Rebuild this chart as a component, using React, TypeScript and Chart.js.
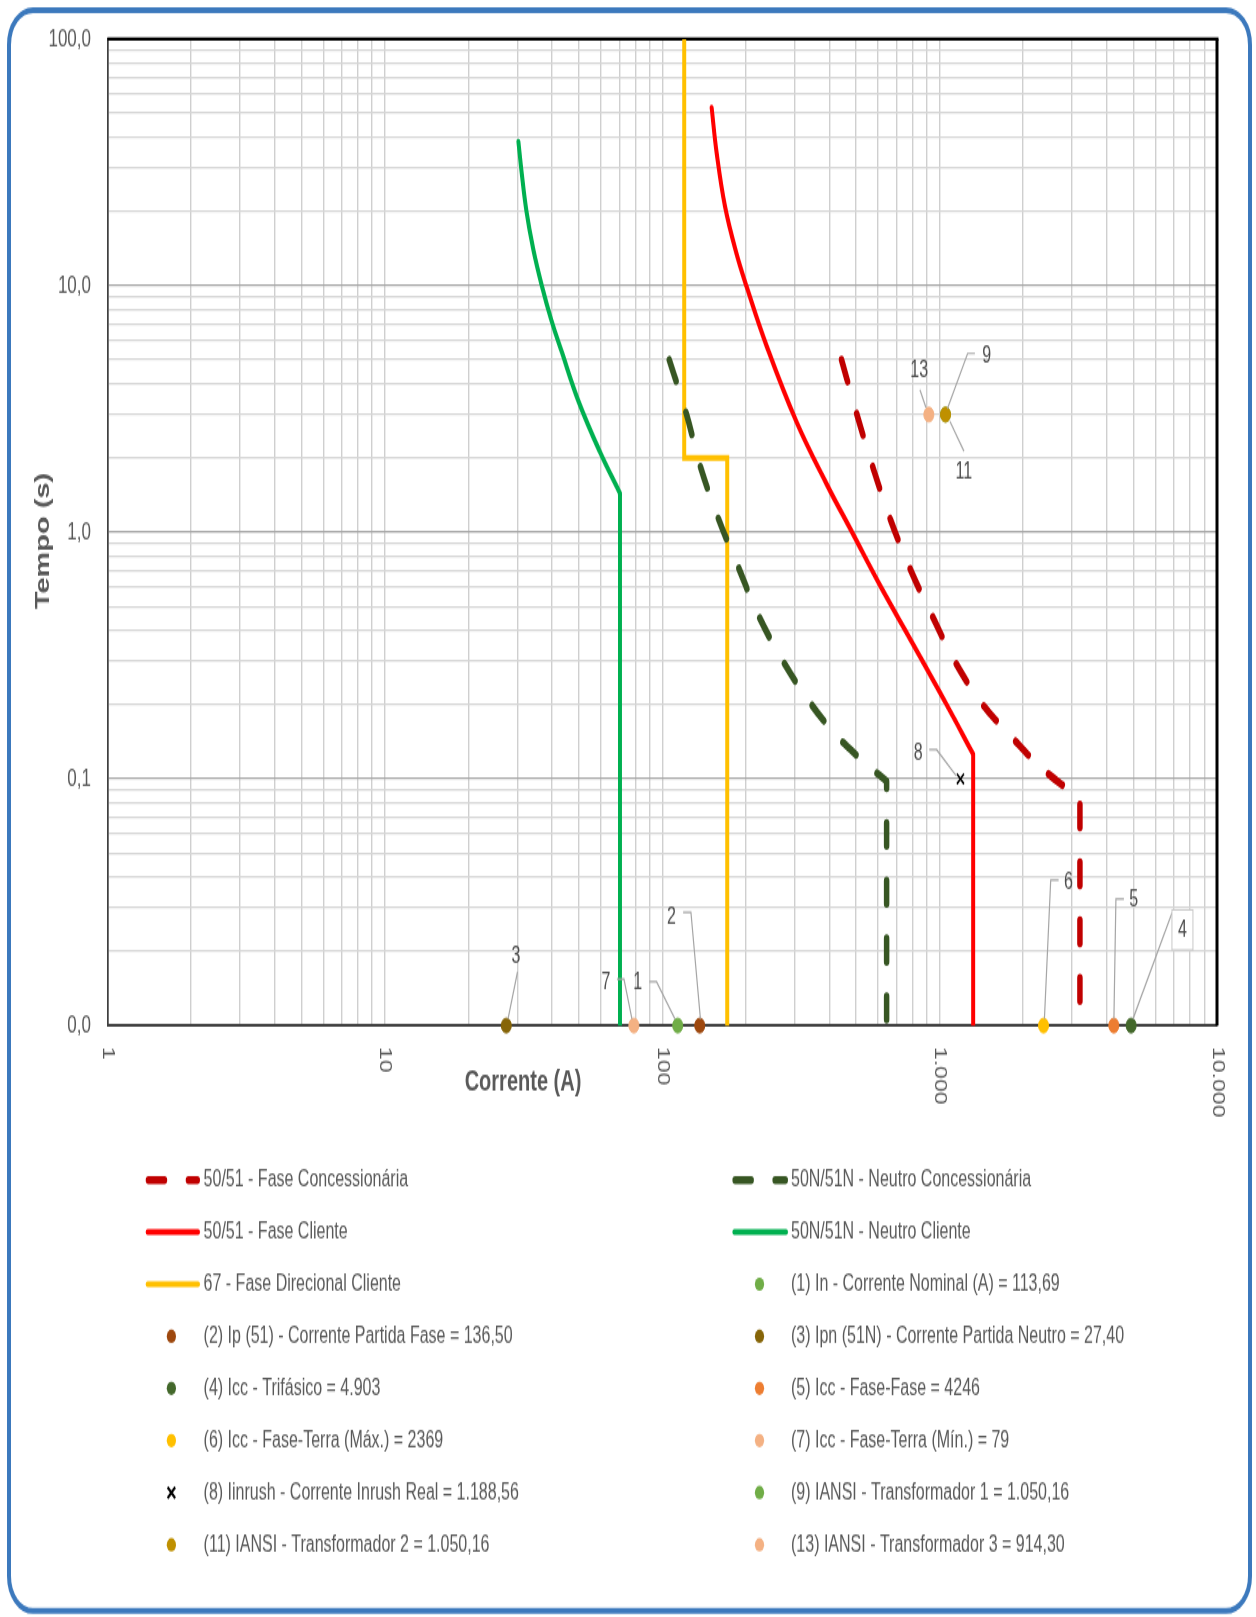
import React, { useEffect, useRef } from 'react';
import { Chart, registerables } from 'chart.js';

Chart.register(...registerables);

// ---------------- data ----------------
const xGridValues = [1, 2, 3, 4, 5, 6, 7, 8, 9, 10, 20, 30, 40, 50, 60, 70, 80, 90, 100, 200, 300, 400, 500, 600, 700, 800, 900, 1000, 2000, 3000, 4000, 5000, 6000, 7000, 8000, 9000, 10000];
const xTickValues = [1, 10, 100, 1000, 10000];
const xTickLabels = ['1', '10', '100', '1.000', '10.000'];

const yGridValues = [0.01, 0.02, 0.03, 0.04, 0.05, 0.06, 0.07, 0.08, 0.09, 0.1, 0.2, 0.3, 0.4, 0.5, 0.6, 0.7, 0.8, 0.9, 1, 2, 3, 4, 5, 6, 7, 8, 9, 10, 20, 30, 40, 50, 60, 70, 80, 90, 100];
const yTickValues = [0.01, 0.1, 1, 10, 100];
const yTickLabels = ['0,0', '0,1', '1,0', '10,0', '100,0'];

const xTitle = 'Corrente (A)';
const yTitle = 'Tempo (s)';

const curveNames = [
  '50/51 - Fase Concessionária',
  '50N/51N - Neutro Concessionária',
  '50/51 - Fase Cliente',
  '50N/51N - Neutro Cliente',
  '67 - Fase Direcional Cliente',
];
const curveColors = ['#C00000', '#375623', '#FF0000', '#00B050', '#FFC000'];
const curveDashed = [true, true, false, false, false];
const curveSmooth = [true, true, true, true, false];

const faseConcCurrent = [443, 502, 576, 666, 786, 944, 1145, 1436, 1818, 2266, 2870, 3205, 3205];
const faseConcTime = [5.0, 3.03, 1.82, 1.12, 0.703, 0.454, 0.294, 0.199, 0.148, 0.114, 0.0915, 0.084, 0.01];

const neutroConcCurrent = [106, 122.5, 136.8, 159.2, 187.9, 221.9, 273, 336, 413.6, 516, 575, 644, 644];
const neutroConcTime = [5.0, 2.99, 1.87, 1.14, 0.724, 0.462, 0.299, 0.209, 0.155, 0.121, 0.109, 0.098, 0.01];

const faseClienteCurrent = [150.7, 157.1, 168.3, 185.5, 201.5, 237.8, 305, 391.4, 488.2, 609.5, 803.8, 1060, 1321, 1321];
const faseClienteTime = [52.7, 34.5, 21.0, 13.4, 9.9, 5.7, 2.8, 1.57, 0.98, 0.61, 0.35, 0.2, 0.126, 0.01];

const neutroClienteCurrent = [30.3, 31.1, 32.4, 34.3, 36.8, 39.9, 43.4, 49.8, 59.6, 70.4, 70.4];
const neutroClienteTime = [38.3, 29.0, 20.0, 14.0, 10.0, 7.2, 5.4, 3.42, 2.12, 1.44, 0.01];

const direcionalCurrent = [120, 120, 171.5, 171.5];
const direcionalTime = [100, 2.0, 2.0, 0.01];

const curveCurrents = [faseConcCurrent, neutroConcCurrent, faseClienteCurrent, neutroClienteCurrent, direcionalCurrent];
const curveTimes = [faseConcTime, neutroConcTime, faseClienteTime, neutroClienteTime, direcionalTime];

const markerIds = ['1', '2', '3', '4', '5', '6', '7', '8', '9', '11', '13'];
const markerNames = [
  '(1) In - Corrente Nominal (A) = 113,69',
  '(2) Ip (51) - Corrente Partida Fase = 136,50',
  '(3) Ipn (51N) - Corrente Partida Neutro = 27,40',
  '(4) Icc - Trifásico = 4.903',
  '(5) Icc - Fase-Fase = 4246',
  '(6) Icc - Fase-Terra (Máx.) = 2369',
  '(7) Icc - Fase-Terra (Mín.) = 79',
  '(8) Iinrush - Corrente Inrush Real = 1.188,56',
  '(9) IANSI - Transformador 1 = 1.050,16',
  '(11) IANSI - Transformador 2 = 1.050,16',
  '(13) IANSI - Transformador 3 = 914,30',
];
const markerCurrents = [113.69, 136.5, 27.4, 4903, 4246, 2369, 79, 1188.56, 1050.16, 1050.16, 914.3];
const markerTimes = [0.01, 0.01, 0.01, 0.01, 0.01, 0.01, 0.01, 0.1, 3, 3, 3];
const markerColors = ['#70AD47', '#9E480E', '#866508', '#43682B', '#ED7D31', '#FFC000', '#F4B183', '#000000', '#70AD47', '#BF9000', '#F4B183'];

// ---------------- layout / style ----------------
const W = 1256;
const H_PAGE = 1617;
const H = 1115; // drawing height, stretched vertically to page height
const S = H_PAGE / H;

const PLOT_LEFT = 107.5;
const PLOT_RIGHT = 1217;
const PLOT_TOP = 39 / S;
const PLOT_BOTTOM = 1025.5 / S;

const FONT = '"Liberation Sans", Arial, Helvetica, sans-serif';
const TEXT_COLOR = '#595959';
const FRAME_COLOR = '#3c79bd';

const LEGEND_TOP = 1180 / S;
const LEGEND_ROW = 52.1 / S;
const legendColumns = [
  { x0: 145.7, x1: 200, mx: 171.4, tx: 203.6 },
  { x0: 732.4, x1: 788, mx: 759.5, tx: 791 },
];

// callout (data label) geometry relative to the marker, in drawing units
const calloutLayout: Record<string, any> = {
  '3': { text: [9.7, -47.2], path: [[11.2, -36.9], [1.7, -4.5]] },
  '7': { text: [-27.9, -30], path: [[-16.9, -32.1], [-9.9, -32.1], [-1.9, -4.5]] },
  '1': { text: [-40, -29.3], path: [[-28.3, -30.2], [-21.2, -30.2], [-2.7, -4.5]] },
  '2': { text: [-28.4, -75], path: [[-16.6, -78.1], [-8.8, -78.1], [0.7, -4.5]] },
  '6': { text: [25, -98.1], path: [[15.1, -100.3], [7.2, -100.3], [0.9, -4.5]] },
  '5': { text: [19.9, -86.6], path: [[10.1, -87.2], [2.1, -87.2], [0.1, -4.5]] },
  '4': { text: [51.3, -65.9], box: [40.8, -79.7, 21, 27.6], path: [[40.8, -77.6], [1.8, -4.5]] },
  '8': { text: [-42.2, -17.4], path: [[-31.2, -20.1], [-23.8, -20.1], [-4.5, -2.4]] },
  '13': { text: [-9.6, -29.9], path: [[-8.9, -17.2], [-2.9, -4.8]] },
  '9': { text: [41.1, -40.2], path: [[29.4, -42.1], [22.1, -42.1], [1.9, -4.1]] },
  '11': { text: [18.4, 40.2], path: [[18.4, 25.3], [4.4, 4.6]] },
};

function roundRectPath(ctx: CanvasRenderingContext2D, x: number, y: number, w: number, h: number, r: number) {
  ctx.beginPath();
  ctx.moveTo(x + r, y);
  ctx.lineTo(x + w - r, y);
  ctx.arcTo(x + w, y, x + w, y + r, r);
  ctx.lineTo(x + w, y + h - r);
  ctx.arcTo(x + w, y + h, x + w - r, y + h, r);
  ctx.lineTo(x + r, y + h);
  ctx.arcTo(x, y + h, x, y + h - r, r);
  ctx.lineTo(x, y + r);
  ctx.arcTo(x, y, x + r, y, r);
  ctx.closePath();
}

const framePlugin = {
  id: 'frame',
  beforeDraw(chart: any) {
    const ctx = chart.ctx;
    ctx.save();
    ctx.fillStyle = '#ffffff';
    ctx.fillRect(0, 0, chart.width, chart.height);
    ctx.strokeStyle = FRAME_COLOR;
    ctx.lineWidth = 4;
    roundRectPath(ctx, 9, 10 / S, 1241, 1601 / S, 24);
    ctx.stroke();
    ctx.restore();
  },
  beforeDatasetsDraw(chart: any) {
    const ctx = chart.ctx;
    const { left, right, top, bottom } = chart.chartArea;
    ctx.save();
    ctx.strokeStyle = '#000000';
    ctx.lineWidth = 2.4;
    ctx.beginPath();
    ctx.moveTo(left, top);
    ctx.lineTo(right + 1.5, top);
    ctx.stroke();
    ctx.lineWidth = 3;
    ctx.beginPath();
    ctx.moveTo(right, top);
    ctx.lineTo(right, bottom);
    ctx.stroke();
    ctx.restore();
  },
};

function drawMarker(ctx: CanvasRenderingContext2D, style: string, color: string, x: number, y: number, r: number, lw: number) {
  if (style === 'crossRot') {
    ctx.strokeStyle = color;
    ctx.lineWidth = lw;
    ctx.beginPath();
    ctx.moveTo(x - r, y - r);
    ctx.lineTo(x + r, y + r);
    ctx.moveTo(x + r, y - r);
    ctx.lineTo(x - r, y + r);
    ctx.stroke();
  } else {
    ctx.fillStyle = color;
    ctx.beginPath();
    ctx.arc(x, y, r, 0, Math.PI * 2);
    ctx.fill();
  }
}

const annotationPlugin = {
  id: 'annotations',
  afterDraw(chart: any) {
    const ctx: CanvasRenderingContext2D = chart.ctx;
    const { bottom } = chart.chartArea;
    const xScale = chart.scales.x;

    // x tick labels (rotated, reading downward)
    ctx.save();
    ctx.fillStyle = TEXT_COLOR;
    ctx.font = `16px ${FONT}`;
    ctx.textAlign = 'left';
    ctx.textBaseline = 'middle';
    xTickValues.forEach((v, i) => {
      const px = xScale.getPixelForValue(v);
      ctx.save();
      ctx.translate(px, bottom + 14.6);
      ctx.rotate(Math.PI / 2);
      ctx.fillText(xTickLabels[i], 0, 0);
      ctx.restore();
    });
    ctx.restore();

    // axis titles
    ctx.save();
    ctx.fillStyle = TEXT_COLOR;
    ctx.font = `bold 20px ${FONT}`;
    ctx.textAlign = 'center';
    ctx.textBaseline = 'middle';
    ctx.fillText(xTitle, 523, 1082.5 / S);
    ctx.translate(43.3, 541 / S);
    ctx.rotate(-Math.PI / 2);
    ctx.fillText(yTitle, 0, 0);
    ctx.restore();

    // callouts
    chart.data.datasets.forEach((ds: any, i: number) => {
      const lay = ds.calloutId ? calloutLayout[ds.calloutId] : null;
      if (!lay) return;
      const el = chart.getDatasetMeta(i).data[0];
      if (!el) return;
      const px = el.x, py = el.y;
      ctx.save();
      ctx.strokeStyle = '#a6a6a6';
      ctx.lineWidth = 1.2;
      ctx.beginPath();
      lay.path.forEach((p: number[], k: number) => {
        if (k === 0) ctx.moveTo(px + p[0], py + p[1]);
        else ctx.lineTo(px + p[0], py + p[1]);
      });
      ctx.stroke();
      if (lay.box) {
        ctx.strokeStyle = '#c8c8c8';
        ctx.lineWidth = 1;
        ctx.fillStyle = '#ffffff';
        ctx.fillRect(px + lay.box[0], py + lay.box[1], lay.box[2], lay.box[3]);
        ctx.strokeRect(px + lay.box[0], py + lay.box[1], lay.box[2], lay.box[3]);
      }
      ctx.fillStyle = '#4d4d4d';
      ctx.font = `16px ${FONT}`;
      ctx.textAlign = 'center';
      ctx.textBaseline = 'middle';
      ctx.fillText(ds.calloutId, px + lay.text[0], py + lay.text[1]);
      ctx.restore();
    });

    // legend (two columns)
    chart.data.datasets.forEach((ds: any, i: number) => {
      const col = legendColumns[i % 2];
      const y = LEGEND_TOP + Math.floor(i / 2) * LEGEND_ROW;
      ctx.save();
      if (ds.showLine) {
        const lw = ds.borderWidth;
        ctx.strokeStyle = ds.borderColor;
        ctx.lineWidth = lw;
        ctx.lineCap = 'round';
        ctx.setLineDash(ds.borderDash || []);
        ctx.beginPath();
        ctx.moveTo(col.x0 + lw / 2, y);
        ctx.lineTo(col.x1 - lw / 2, y);
        ctx.stroke();
        ctx.setLineDash([]);
      } else {
        drawMarker(ctx, ds.pointStyle, ds.pointStyle === 'crossRot' ? '#000000' : ds.backgroundColor, col.mx, y, ds.pointStyle === 'crossRot' ? 3.8 : 4.6, 2);
      }
      ctx.fillStyle = TEXT_COLOR;
      ctx.font = `16px ${FONT}`;
      ctx.textAlign = 'left';
      ctx.textBaseline = 'middle';
      ctx.fillText(ds.label, col.tx, y);
      ctx.restore();
    });
  },
};

function buildDatasets() {
  const curves = curveNames.map((name, i) => {
    const pts = curveCurrents[i].map((x, j) => ({ x, y: curveTimes[i][j] }));
    const n = pts.length;
    // keep the knee sharp: repeat the knee point so the spline breaks there
    if (curveSmooth[i] && n > 2 && pts[n - 1].x === pts[n - 2].x) {
      pts.splice(n - 1, 0, { ...pts[n - 2] });
    }
    return {
      label: name,
      data: pts,
      showLine: true,
      borderColor: curveColors[i],
      backgroundColor: curveColors[i],
      borderWidth: curveDashed[i] ? 5.5 : 4,
      borderDash: curveDashed[i] ? [16, 24] : [],
      borderCapStyle: 'round',
      borderJoinStyle: curveSmooth[i] ? 'round' : 'miter',
      pointRadius: 0,
      pointHoverRadius: 0,
      pointHitRadius: 0,
      tension: curveSmooth[i] ? 0.4 : 0,
      order: 0,
    };
  });
  const markers = markerNames.map((name, i) => {
    const isCross = markerIds[i] === '8';
    return {
      label: name,
      calloutId: markerIds[i],
      data: [{ x: markerCurrents[i], y: markerTimes[i] }],
      showLine: false,
      pointStyle: isCross ? 'crossRot' : 'circle',
      pointRadius: 5,
      pointHoverRadius: 5,
      pointBorderWidth: isCross ? 1.6 : 1,
      backgroundColor: markerColors[i],
      borderColor: markerColors[i],
      pointBackgroundColor: markerColors[i],
      pointBorderColor: markerColors[i],
      clip: false,
      order: markerIds[i] === '9' ? 1 : 0,
    };
  });
  return [...curves, ...markers];
}

export default function App() {
  const ref = useRef<HTMLCanvasElement>(null);

  useEffect(() => {
    const canvas = ref.current;
    if (!canvas) return;
    const chart = new Chart(canvas, {
      type: 'scatter',
      data: { datasets: buildDatasets() as any },
      options: {
        animation: false,
        responsive: false,
        devicePixelRatio: 1,
        events: [],
        layout: { padding: { left: 0, top: PLOT_TOP, right: W - PLOT_RIGHT, bottom: 0 } },
        plugins: {
          legend: { display: false },
          tooltip: { enabled: false },
          title: { display: false },
        },
        scales: {
          x: {
            type: 'logarithmic',
            position: 'bottom',
            min: 1,
            max: 10000,
            afterBuildTicks: (s: any) => {
              s.ticks = xGridValues.map((v) => ({ value: v }));
            },
            afterFit: (s: any) => {
              s.height = H - PLOT_BOTTOM;
            },
            ticks: { display: false, autoSkip: false },
            grid: { color: '#cfcfcf', lineWidth: 1.4, drawTicks: false },
            border: { display: true, color: '#404040', width: 2 },
            title: { display: false },
          },
          y: {
            type: 'logarithmic',
            position: 'left',
            min: 0.01,
            max: 100,
            afterBuildTicks: (s: any) => {
              s.ticks = yGridValues.map((v) => ({ value: v }));
            },
            afterFit: (s: any) => {
              s.width = PLOT_LEFT;
            },
            ticks: {
              autoSkip: false,
              padding: 16.5,
              color: TEXT_COLOR,
              font: { family: FONT, size: 17 },
              callback: (v: any) => {
                const k = yTickValues.indexOf(Number(v));
                return k >= 0 ? yTickLabels[k] : '';
              },
            },
            grid: {
              color: (c: any) => (c.tick && yTickValues.indexOf(c.tick.value) >= 0 ? '#a6a6a6' : '#d6d6d6'),
              lineWidth: 1.3,
              drawTicks: false,
            },
            border: { display: true, color: '#404040', width: 1.7 },
            title: { display: false },
          },
        },
      } as any,
      plugins: [framePlugin, annotationPlugin],
    });
    return () => chart.destroy();
  }, []);

  return (
    <div style={{ position: 'absolute', left: 0, top: 0, width: W, height: H_PAGE, background: '#ffffff' }}>
      <canvas
        ref={ref}
        width={W}
        height={H}
        style={{ display: 'block', width: `${W}px`, height: `${H_PAGE}px` }}
      />
    </div>
  );
}
